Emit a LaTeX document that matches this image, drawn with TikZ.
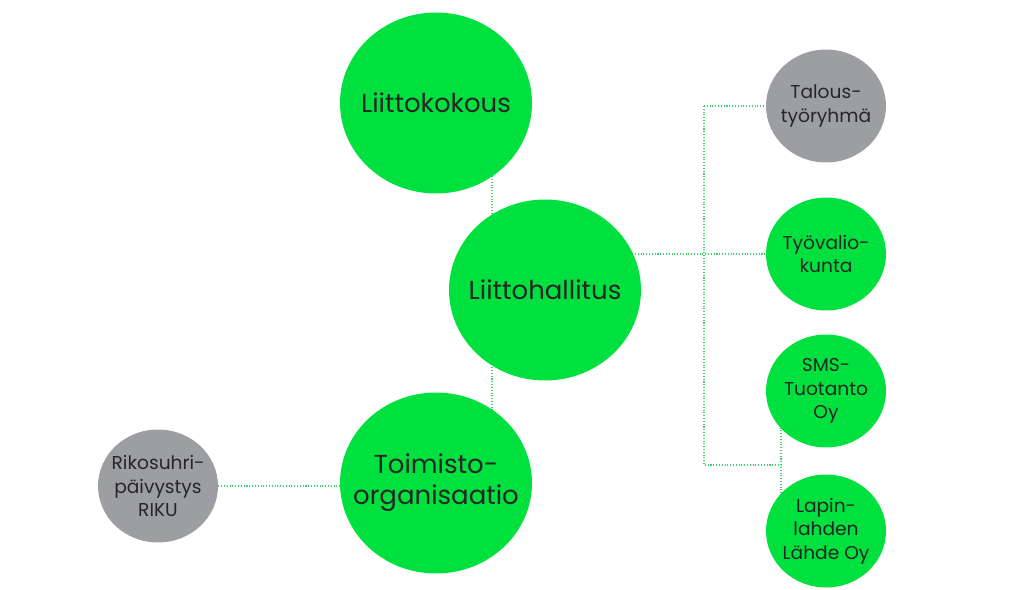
\documentclass[tikz,border=0pt]{standalone}
\usepackage{fontspec}
\setmainfont{Poppins}
\usetikzlibrary{positioning,shapes.geometric,backgrounds}
\definecolor{cball}{RGB}{0,224,62}
\definecolor{cgrey}{RGB}{156,158,162}
\definecolor{clink}{RGB}{60,210,110}

\begin{document}
\begin{tikzpicture}[x=0.02cm,y=-0.02cm,
    ball/.style={ellipse, inner sep=0pt},
    bigball/.style={ball, fill=cball, minimum width=3.84cm, minimum height=3.62cm},
    smallball/.style={ball, fill=cball, minimum width=2.4cm, minimum height=2.26cm},
    greyball/.style={smallball, fill=cgrey},
    bigtext/.style={align=center, text=black!85, font=\fontsize{14.8}{17.6}\selectfont},
    smalltext/.style={align=center, text=black!85, font=\fontsize{10.6}{13.4}\selectfont},
    link/.style={clink, densely dotted, line width=0.6pt}]
    \useasboundingbox (0,0) rectangle (1024,589);
    % main bodies
    \node[bigball, label={[bigtext]center:Liittokokous}] (kokous) at (436,103) {};
    \node[bigball, label={[bigtext]center:Liittohallitus}] (hallitus) at (545,290) {};
    \node[bigball, label={[bigtext]center:Toimisto-\\organisaatio}] (toimisto) at (436,483) {};
    \node[greyball, label={[smalltext]center:Rikosuhri-\\päivystys\\RIKU}] (riku) at (158,486) {};
    % committees and companies
    \node[greyball, label={[smalltext]center:Talous-\\työryhmä}] (talous) at (826,106) {};
    \node[smallball, label={[smalltext]center:Työvalio-\\kunta}] (tyovalio) at (826,254) {};
    \node[smallball, label={[smalltext]center:SMS-\\Tuotanto\\Oy}] (sms) at (826,391) {};
    \node[smallball, label={[smalltext]center:Lapin-\\lahden\\Lähde Oy}] (lahde) at (826,531) {};
    % connectors, behind the balls
    \coordinate (trunk) at (492,0);
    \coordinate (bus) at (704,0);
    \coordinate (fork) at (781,465);
    \begin{pgfonlayer}{background}
      \draw[link] (trunk |- kokous.center) -- (trunk |- toimisto.center);
      \draw[link] (riku) -- (riku -| toimisto);
      \draw[link] (hallitus.center |- tyovalio) -- (tyovalio);
      \draw[link] (bus |- talous) -- (talous);
      \draw[link] (bus |- talous) -- (bus |- fork) -- (fork);
      \draw[link] (fork |- sms) -- (fork |- lahde);
    \end{pgfonlayer}
\end{tikzpicture}
\end{document}
